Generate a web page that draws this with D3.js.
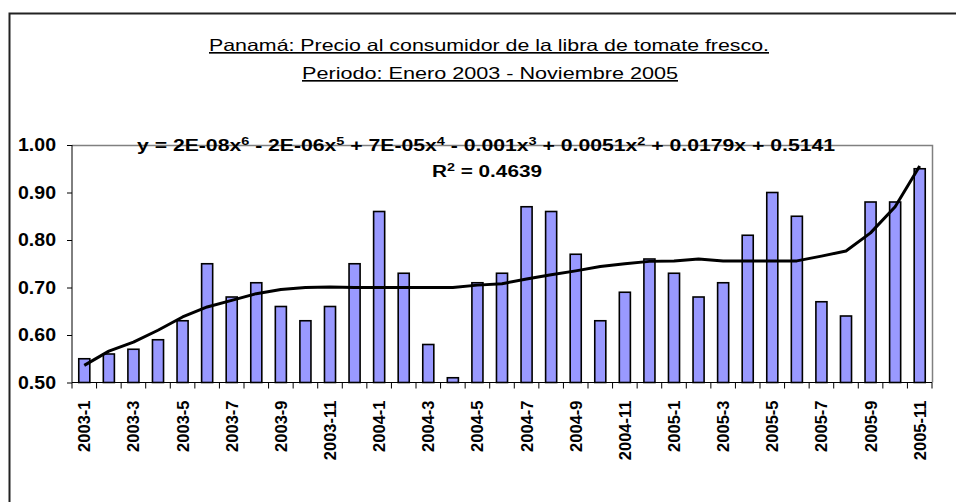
<!DOCTYPE html>
<html>
<head>
    <meta charset="utf-8">
    <title>tomate</title>
    <script src="https://d3js.org/d3.v7.min.js"></script>
    <style>
        body { margin: 0; background: #fff; }
        svg { display: block; font-family: Arial, "Liberation Sans", sans-serif; }
        .title { font-size: 16.5px; fill: #000; text-decoration: underline; }
        .eq { font-size: 16px; font-weight: bold; }
        .y-axis text { font-size: 18px; font-weight: bold; fill: #000; }
        .x-axis text { font-size: 16.5px; font-weight: bold; fill: #000; }
        .bar { fill: #9999ff; stroke: #000; stroke-width: 1.6; }
        .trend { fill: none; stroke: #000; stroke-width: 3; stroke-linejoin: round; }
    </style>
</head>
<body>
<script>

    var months = ["2003-1","2003-2","2003-3","2003-4","2003-5","2003-6","2003-7","2003-8","2003-9","2003-10","2003-11","2003-12",
                  "2004-1","2004-2","2004-3","2004-4","2004-5","2004-6","2004-7","2004-8","2004-9","2004-10","2004-11","2004-12",
                  "2005-1","2005-2","2005-3","2005-4","2005-5","2005-6","2005-7","2005-8","2005-9","2005-10","2005-11"];

    var prices = [0.55,0.56,0.57,0.59,0.63,0.75,0.68,0.71,0.66,0.63,0.66,0.75,
                  0.86,0.73,0.58,0.51,0.71,0.73,0.87,0.86,0.77,0.63,0.69,0.76,
                  0.73,0.68,0.71,0.81,0.90,0.85,0.67,0.64,0.88,0.88,0.95];

    // polynomial trend line as drawn in the picture
    var trend = [0.536,0.566,0.585,0.610,0.638,0.659,0.673,0.687,0.696,0.700,0.701,0.700,
                 0.700,0.700,0.700,0.700,0.705,0.708,0.718,0.727,0.735,0.744,0.750,0.755,
                 0.756,0.760,0.756,0.756,0.756,0.756,0.766,0.777,0.815,0.870,0.956];

    var yTicks = [0.5, 0.6, 0.7, 0.8, 0.9, 1.0];

    var title1 = "Panamá: Precio al consumidor de la libra de tomate fresco.";
    var title2 = "Periodo: Enero 2003 - Noviembre 2005";
    var eqParts = [["y = 2E-08x",""],["6",1],[" - 2E-06x",""],["5",1],[" + 7E-05x",""],["4",1],
                   [" - 0.001x",""],["3",1],[" + 0.0051x",""],["2",1],[" + 0.0179x + 0.5141",""]];
    var r2Parts = [["R",""],["2",1],[" = 0.4639",""]];

    var width = 956, height = 502;
    var plotLeft = 72, plotRight = 932, plotTop = 145, plotBottom = 382.5;

    var svg = d3.select("body").append("svg")
        .attr("width", width)
        .attr("height", height);

    // outer chart frame (runs off the page on the right and bottom)
    svg.append("rect")
        .attr("x", 9.5).attr("y", 13.5)
        .attr("width", 1000).attr("height", 600)
        .attr("fill", "#fff")
        .attr("stroke", "#222").attr("stroke-width", 2);

    var x = d3.scaleBand().domain(months).range([plotLeft, plotRight]).padding(0);
    var y = d3.scaleLinear().domain([0.5, 1.0]).range([plotBottom, plotTop]);
    var barW = x.bandwidth() * 0.45;

    // plot area border, top and right in grey
    svg.append("path")
        .attr("d", "M" + plotLeft + "," + (plotTop + 0.5) + "H" + (plotRight + 0.5) + "V" + plotBottom)
        .attr("fill", "none").attr("stroke", "#808080").attr("stroke-width", 1.5);

    svg.selectAll(".bar")
        .data(prices).enter().append("rect")
        .attr("class", "bar")
        .attr("x", function (d, i) { return x(months[i]) + (x.bandwidth() - barW) / 2; })
        .attr("y", function (d) { return y(d); })
        .attr("width", barW)
        .attr("height", function (d) { return y(0.5) - y(d); });

    var line = d3.line()
        .x(function (d, i) { return x(months[i]) + x.bandwidth() / 2; })
        .y(function (d) { return y(d); });

    svg.append("path").datum(trend).attr("class", "trend").attr("d", line);

    // y axis
    var yAxis = svg.append("g")
        .attr("class", "y-axis")
        .attr("transform", "translate(" + plotLeft + ",0)")
        .call(d3.axisLeft(y).tickValues(yTicks).tickFormat(d3.format(".2f")).tickSize(5).tickPadding(11));
    yAxis.selectAll("line,path").attr("stroke", "#000");
    yAxis.select(".domain").attr("d", "M0," + plotTop + "V" + plotBottom);
    yAxis.selectAll("text").attr("font-family", null).attr("font-size", null)
        .attr("textLength", 38).attr("lengthAdjust", "spacingAndGlyphs");

    // x axis: ticks between months, label every second month
    var xAxis = svg.append("g")
        .attr("class", "x-axis")
        .attr("transform", "translate(0," + plotBottom + ")")
        .call(d3.axisBottom(x)
            .tickValues(months.filter(function (d, i) { return i % 2 === 0; }))
            .tickSize(0).tickPadding(0));
    xAxis.select(".domain").attr("d", "M" + plotLeft + ",0H" + plotRight).attr("stroke", "#000").attr("stroke-width", 1.2);
    xAxis.selectAll("text")
        .attr("font-family", null).attr("font-size", null)
        .attr("transform", "rotate(-90)")
        .attr("x", -18).attr("y", 0).attr("dy", "0.36em")
        .style("text-anchor", "end");

    xAxis.selectAll(".bound")
        .data(months.map(function (m) { return x(m); }).concat([plotRight]))
        .enter().append("line")
        .attr("class", "bound")
        .attr("x1", function (d) { return d; }).attr("x2", function (d) { return d; })
        .attr("y1", 0).attr("y2", 6)
        .attr("stroke", "#000");

    // titles
    svg.append("text").attr("class", "title")
        .attr("x", 489).attr("y", 51)
        .attr("text-anchor", "middle")
        .attr("textLength", 560).attr("lengthAdjust", "spacingAndGlyphs")
        .text(title1);

    svg.append("text").attr("class", "title")
        .attr("x", 490).attr("y", 79)
        .attr("text-anchor", "middle")
        .attr("textLength", 376).attr("lengthAdjust", "spacingAndGlyphs")
        .text(title2);

    function richText(parts, xPos, yPos, len) {
        var t = svg.append("text").attr("class", "eq")
            .attr("x", xPos).attr("y", yPos)
            .attr("text-anchor", "middle")
            .attr("textLength", len).attr("lengthAdjust", "spacingAndGlyphs");
        parts.forEach(function (p, i) {
            var s = t.append("tspan").text(p[0]);
            if (p[1]) s.attr("font-size", "11px").attr("dy", -6);
            else if (i > 0 && parts[i - 1][1]) s.attr("dy", 6);
        });
        return t;
    }

    richText(eqParts, 486, 151, 698);
    richText(r2Parts, 487, 177, 110);

</script>
</body>
</html>
